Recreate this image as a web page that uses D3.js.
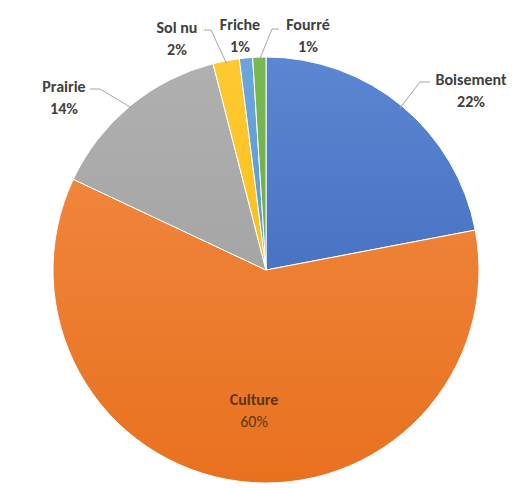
<!DOCTYPE html>
<html>
<head>
<meta charset="utf-8">
<script src="https://cdn.jsdelivr.net/npm/d3@7"></script>
<style>
  body { margin: 0; background: #fff; }
  text { font-family: Carlito, Calibri, "Liberation Sans", "DejaVu Sans", sans-serif; }
</style>
</head>
<body>
<svg id="chart" width="515" height="488"></svg>
<script>
// chart data
const categories = ['Boisement', 'Culture', 'Prairie', 'Sol nu', 'Friche', 'Fourré'];
const values = [22, 60, 14, 2, 1, 1];
const percentLabels = ['22%', '60%', '14%', '2%', '1%', '1%'];

const colorsLight = ['#5a86d2', '#f38d48', '#b0b0b0', '#ffc933', '#6aa6dc', '#7ab852'];
const colorsDark = ['#3761b5', '#e8711e', '#9a9a9a', '#f5b700', '#4e8ecb', '#60a03b'];

const cx = 266, cy = 270, radius = 213;

const svg = d3.select('#chart');
const defs = svg.append('defs');

// vertical gradient for each slice, in page space
categories.forEach(function (c, i) {
    const g = defs.append('linearGradient')
        .attr('id', 'grad' + i)
        .attr('gradientUnits', 'userSpaceOnUse')
        .attr('x1', 0).attr('y1', -radius)
        .attr('x2', 0).attr('y2', radius);
    g.append('stop').attr('offset', '0%').attr('stop-color', colorsLight[i]);
    g.append('stop').attr('offset', '100%').attr('stop-color', colorsDark[i]);
});

const pie = d3.pie().sort(null).value(d => d.value);
const arcs = pie(categories.map((c, i) => ({ name: c, value: values[i], label: percentLabels[i], i: i })));

const arc = d3.arc().innerRadius(0).outerRadius(radius);

svg.append('g')
    .attr('transform', 'translate(' + cx + ',' + cy + ')')
    .selectAll('path')
    .data(arcs)
    .enter()
    .append('path')
    .attr('d', arc)
    .style('fill', d => 'url(#grad' + d.data.i + ')')
    .style('stroke', '#fff')
    .style('stroke-width', 1);

// label placement: text centre x, baseline of the name line
const labelPos = [
    [471, 85], [254, 405], [64, 92], [177, 33], [240, 30], [308, 30]
];
const leaderStart = [
    [430, 82], null, [90, 89], [204, 30], null, [279, 29]
];
const leaderElbow = [
    [420, 82], null, [100, 89], [211, 30], null, [272, 29]
];

const labels = svg.append('g');

arcs.forEach(function (d) {
    const i = d.data.i;
    if (leaderStart[i]) {
        const a = (d.startAngle + d.endAngle) / 2;
        const end = [cx + Math.sin(a) * (radius - 3), cy - Math.cos(a) * (radius - 3)];
        labels.append('polyline')
            .attr('points', [leaderStart[i], leaderElbow[i], end].map(p => p.join(',')).join(' '))
            .style('fill', 'none')
            .style('stroke', '#a6a6a6')
            .style('stroke-width', 1);
    }
    const inside = i === 1;
    const t = labels.append('text')
        .attr('x', labelPos[i][0])
        .attr('y', labelPos[i][1])
        .attr('text-anchor', 'middle')
        .style('font-size', '16px')
        .style('font-weight', 'bold')
        .style('fill', inside ? '#5b3515' : '#404040');
    t.append('tspan').text(d.data.name);
    t.append('tspan')
        .attr('x', labelPos[i][0])
        .attr('dy', 22)
        .style('font-weight', inside ? 'normal' : 'bold')
        .text(d.data.label);
});
</script>
</body>
</html>
